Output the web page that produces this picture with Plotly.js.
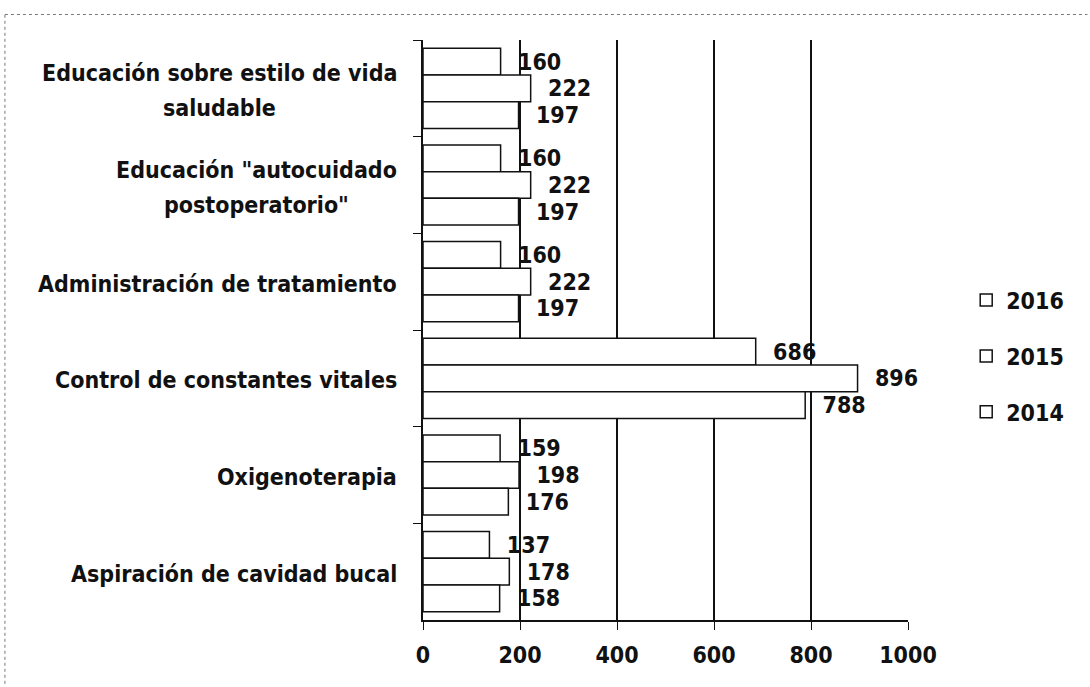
<!DOCTYPE html>
<html>
<head>
<meta charset="utf-8">
<script src="https://cdn.plot.ly/plotly-3.0.1.min.js"></script>
<style>html,body{margin:0;padding:0;background:#fff;}#chart{width:1090px;height:687px;}</style>
</head>
<body>
<div id="chart"></div>
<script>
// Categories listed from top to bottom as in the picture
const categories = [
  'Educación sobre estilo de vida<br>saludable',
  'Educación "autocuidado<br>postoperatorio"',
  'Administración de tratamiento',
  'Control de constantes vitales',
  'Oxigenoterapia',
  'Aspiración de cavidad bucal'
];
const series = ['2016', '2015', '2014'];
const values2016 = [160, 160, 160, 686, 159, 137];
const values2015 = [222, 222, 222, 896, 198, 178];
const values2014 = [197, 197, 197, 788, 176, 158];
const xTicks = [0, 200, 400, 600, 800, 1000];

const FONT = '"DejaVu Sans Condensed", "DejaVu Sans", sans-serif';
const FS = 23;
const FW = 'bold';
const allValues = [values2016, values2015, values2014];

const traces = series.map((name, i) => ({
  type: 'bar',
  orientation: 'h',
  name: name,
  legendgroup: name,
  y: categories,
  x: allValues[i],
  text: allValues[i].map(String),
  texttemplate: '\u00a0\u00a0%{text}',
  textposition: 'outside',
  cliponaxis: false,
  textfont: {family: FONT, size: FS, weight: FW, color: '#111'},
  marker: {color: '#ffffff', line: {color: '#111', width: 1.5}},
  hoverinfo: 'x+name'
}));

// category labels, one annotation per line so the line spacing matches
const LINE = 35;
const annotations = [];
categories.forEach(c => {
  const lines = c.split('<br>');
  lines.forEach((ln, k) => {
    annotations.push({
      xref: 'paper', yref: 'y', x: 0, y: c,
      xanchor: 'center', yanchor: 'middle',
      xshift: 0, yshift: ((lines.length - 1) / 2 - k) * LINE - 2,
      text: ln, showarrow: false,
      font: {family: FONT, size: FS, weight: FW, color: '#111'},
      _group: lines
    });
  });
});
// right-align each block on its widest line, centre the lines within it
const measure = document.createElement('canvas').getContext('2d');
measure.font = 'bold ' + FS + 'px "DejaVu Sans Condensed", "DejaVu Sans", sans-serif';
annotations.forEach(a => {
  const widest = Math.max(...a._group.map(s => measure.measureText(s.replace(/&quot;/g, '"')).width));
  a.xshift = -26 - widest / 2;
  delete a._group;
});

const layout = {
  width: 1090, height: 687,
  paper_bgcolor: '#fff', plot_bgcolor: '#fff',
  margin: {l: 423, r: 182, t: 40, b: 67},
  barmode: 'group', bargap: 0.17, bargroupgap: 0,
  font: {family: FONT, size: FS, weight: FW, color: '#111'},
  xaxis: {
    range: [0, 1000], tickvals: xTicks, ticktext: xTicks.map(String),
    showgrid: true, gridcolor: '#111', gridwidth: 1.5,
    zeroline: false, showline: true, linecolor: '#111', linewidth: 1.5,
    ticks: 'outside', ticklen: 8, tickcolor: '#111', ticklabelstandoff: 6,
    tickfont: {family: FONT, size: FS, weight: FW, color: '#111'}
  },
  yaxis: {
    type: 'category', categoryorder: 'array', categoryarray: categories,
    autorange: 'reversed',
    showticklabels: false, showgrid: false, zeroline: false,
    showline: true, linecolor: '#111', linewidth: 1.5,
    ticks: 'outside', ticklen: 8, tickcolor: '#111', tickson: 'boundaries'
  },
  showlegend: true,
  legend: {
    x: 1.12, y: 0.455, xanchor: 'left', yanchor: 'middle',
    traceorder: 'grouped', tracegroupgap: 23,
    font: {family: FONT, size: FS, weight: FW, color: '#111'},
    itemwidth: 30, bgcolor: 'rgba(0,0,0,0)'
  },
  annotations: annotations,
  shapes: [
    {type: 'line', xref: 'paper', yref: 'paper', x0: -0.862, x1: 1.37, y0: 1.044, y1: 1.044,
     line: {color: '#777', width: 1, dash: 'dot'}},
    {type: 'line', xref: 'paper', yref: 'paper', x0: -0.862, x1: -0.862, y0: -0.11, y1: 1.044,
     line: {color: '#777', width: 1, dash: 'dot'}}
  ]
};

Plotly.newPlot('chart', traces, layout, {displayModeBar: false, responsive: false});
</script>
</body>
</html>
